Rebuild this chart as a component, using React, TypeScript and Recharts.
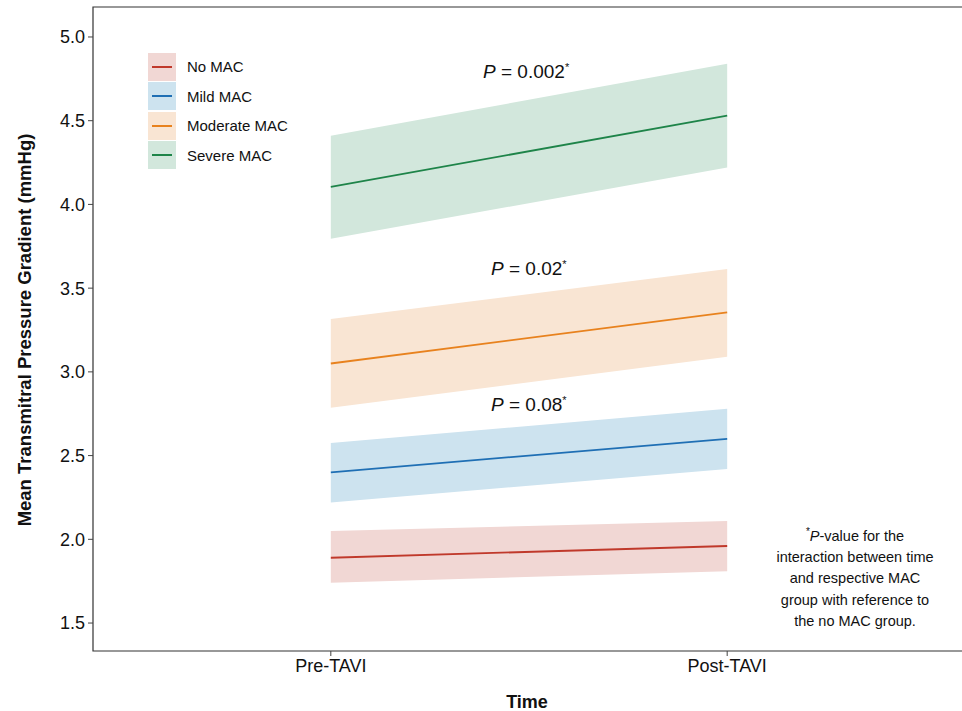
import React from 'react';
import { ComposedChart, Area, Line, XAxis, YAxis, ReferenceArea } from 'recharts';

const times = ['Pre-TAVI', 'Post-TAVI'];
const timePos = [1, 2];

const noMean = [1.89, 1.96];
const noLow = [1.74, 1.81];
const noHigh = [2.05, 2.11];

const mildMean = [2.4, 2.6];
const mildLow = [2.22, 2.42];
const mildHigh = [2.575, 2.78];

const modMean = [3.05, 3.355];
const modLow = [2.785, 3.09];
const modHigh = [3.315, 3.615];

const sevMean = [4.105, 4.53];
const sevLow = [3.795, 4.22];
const sevHigh = [4.41, 4.84];

const yTicks = [1.5, 2.0, 2.5, 3.0, 3.5, 4.0, 4.5, 5.0];

const groups = [
  { key: 'no', name: 'No MAC', line: '#c0392b', fill: '#f1d7d4' },
  { key: 'mild', name: 'Mild MAC', line: '#1f6fb4', fill: '#cde3ef' },
  { key: 'mod', name: 'Moderate MAC', line: '#e8821e', fill: '#f9e5d3' },
  { key: 'sev', name: 'Severe MAC', line: '#1e8449', fill: '#d2e7dc' },
];

const data = timePos.map((x, i) => ({
  x,
  no: noMean[i], noBand: [noLow[i], noHigh[i]],
  mild: mildMean[i], mildBand: [mildLow[i], mildHigh[i]],
  mod: modMean[i], modBand: [modLow[i], modHigh[i]],
  sev: sevMean[i], sevBand: [sevLow[i], sevHigh[i]],
}));

const font = '"Liberation Sans", Arial, sans-serif';

function LegendBox() {
  return (
    <div style={{ position: 'absolute', left: 148, top: 52, fontFamily: font, fontSize: 15, color: '#111' }}>
      {groups.map((g) => (
        <div key={g.key} style={{ display: 'flex', alignItems: 'center', height: 29.5 }}>
          <div style={{ width: 28, height: 28, background: g.fill, position: 'relative', marginRight: 11 }}>
            <div style={{ position: 'absolute', left: 4, right: 4, top: 13, height: 2, background: g.line }} />
          </div>
          <span>{g.name}</span>
        </div>
      ))}
    </div>
  );
}

function PLabel({ left, top, value }: { left: number; top: number; value: string }) {
  return (
    <div style={{ position: 'absolute', left, top, fontFamily: font, fontSize: 19, color: '#111', whiteSpace: 'nowrap' }}>
      <i>P</i> = {value}<sup style={{ fontSize: 11 }}>*</sup>
    </div>
  );
}

export default function App() {
  return (
    <div style={{ position: 'absolute', left: 0, top: 0, width: 962, height: 711, background: '#fff', overflow: 'hidden' }}>
      <ComposedChart
        width={968}
        height={711}
        data={data}
        margin={{ top: 7, right: 3, bottom: 0, left: 0 }}
      >
        <XAxis
          dataKey="x"
          type="number"
          domain={[0.4, 2.6]}
          ticks={timePos}
          tickFormatter={(v) => times[timePos.indexOf(v)]}
          height={60}
          tickSize={5}
          tickMargin={3}
          tickLine={{ stroke: '#444' }}
          axisLine={false}
          tick={{ fill: '#111', fontSize: 18, fontFamily: font }}
          allowDataOverflow
        />
        <YAxis
          type="number"
          domain={[1.333, 5.179]}
          ticks={yTicks}
          tickFormatter={(v) => v.toFixed(1)}
          width={93}
          tickSize={5}
          tickMargin={3}
          tickLine={{ stroke: '#444' }}
          axisLine={false}
          tick={{ fill: '#111', fontSize: 18, fontFamily: font }}
          allowDataOverflow
        />
        {groups.map((g) => (
          <Area
            key={g.key + 'band'}
            dataKey={g.key + 'Band'}
            type="linear"
            stroke="none"
            fill={g.fill}
            fillOpacity={1}
            isAnimationActive={false}
            legendType="none"
          />
        ))}
        {groups.map((g) => (
          <Line
            key={g.key}
            dataKey={g.key}
            name={g.name}
            type="linear"
            stroke={g.line}
            strokeWidth={1.8}
            dot={false}
            activeDot={false}
            isAnimationActive={false}
          />
        ))}
        <ReferenceArea x1={0.4} x2={2.6} y1={1.333} y2={5.179} fill="none" stroke="#333" strokeWidth={1.2} ifOverflow="visible" />
      </ComposedChart>

      <LegendBox />

      <PLabel left={483} top={61} value="0.002" />
      <PLabel left={491} top={258} value="0.02" />
      <PLabel left={491} top={394} value="0.08" />

      <div
        style={{
          position: 'absolute', left: 760, top: 521, width: 190, textAlign: 'center',
          fontFamily: font, fontSize: 14.5, lineHeight: '21.3px', color: '#111',
        }}
      >
        <sup style={{ fontSize: 10 }}>*</sup><i>P</i>-value for the<br />
        interaction between time<br />
        and respective MAC<br />
        group with reference to<br />
        the no MAC group.
      </div>

      <div
        style={{
          position: 'absolute', left: 25, top: 330, transform: 'translate(-50%, -50%) rotate(-90deg)',
          fontFamily: font, fontSize: 18.5, fontWeight: 'bold', color: '#111', whiteSpace: 'nowrap',
        }}
      >
        Mean Transmitral Pressure Gradient (mmHg)
      </div>
      <div
        style={{
          position: 'absolute', left: 527, top: 702, transform: 'translate(-50%, -50%)',
          fontFamily: font, fontSize: 18, fontWeight: 'bold', color: '#111', lineHeight: '18px',
        }}
      >
        Time
      </div>
    </div>
  );
}
